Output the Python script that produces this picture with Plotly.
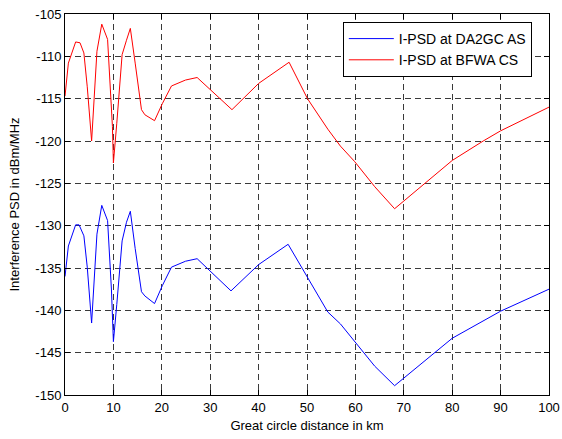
import plotly.graph_objects as go

# distances in km and I-PSD in dBm/MHz
x_red = [0, 0.7, 2.2, 3.1, 3.9, 4.6, 5.5, 6.6, 7.6, 8.8, 9.8, 10.0, 10.7, 11.8, 12.7, 13.5,
         14.5, 15.8, 16.5, 18.5, 20.1, 22.0, 24.9, 27.3, 34.5, 40.0, 46.3, 50.1, 54.3, 56.9,
         59.8, 64.0, 68.1, 73.6, 80.0, 86.4, 90.0, 100]
y_red = [-114.7, -110.8, -108.3, -108.4, -109.6, -113.6, -120.0, -109.4, -106.2, -108.0, -118.3,
         -122.6, -117.9, -109.8, -108.1, -106.7, -110.8, -116.3, -116.9, -117.6, -115.6, -113.5,
         -112.8, -112.5, -116.3, -113.2, -110.7, -115.0, -118.6, -120.6, -122.4, -125.4, -128.0,
         -125.4, -122.3, -120.0, -118.8, -116.0]

x_blue = [0, 0.7, 2.2, 2.9, 3.9, 4.6, 5.5, 6.6, 7.6, 8.8, 9.6, 10.0, 10.7, 11.8, 12.7, 13.5,
          14.5, 15.8, 16.5, 18.5, 20.1, 22.0, 24.9, 27.3, 34.3, 40.0, 46.1, 50.3, 54.3, 56.9,
          59.8, 64.0, 68.1, 73.6, 80.0, 90.0, 100]
y_blue = [-136.0, -132.4, -129.9, -129.9, -131.2, -134.9, -141.5, -131.0, -127.6, -129.4, -137.6,
          -143.7, -139.3, -131.8, -129.6, -128.3, -132.7, -137.8, -138.3, -139.2, -137.1, -134.9,
          -134.2, -133.9, -137.7, -134.6, -132.2, -136.3, -140.2, -141.6, -143.6, -146.6, -148.9,
          -146.3, -143.3, -140.1, -137.5]

x_ticks = list(range(0, 101, 10))
y_ticks = list(range(-150, -104, 5))

FONT = "Liberation Sans, Arial"

fig = go.Figure()
fig.add_trace(go.Scatter(x=x_blue, y=y_blue, mode="lines", name="I-PSD at DA2GC AS",
                         line=dict(color="#0000ff", width=1)))
fig.add_trace(go.Scatter(x=x_red, y=y_red, mode="lines", name="I-PSD at BFWA CS",
                         line=dict(color="#ff0000", width=1)))

axis_common = dict(
    showline=True, linecolor="black", linewidth=1, mirror="ticks",
    ticks="inside", ticklen=5, tickcolor="black",
    showgrid=True, gridcolor="#3a3a3a", gridwidth=1, griddash="6px,4px",
    zeroline=False, automargin=False,
    tickfont=dict(family=FONT, size=13, color="black"),
)

fig.update_xaxes(range=[0, 100], tickvals=x_ticks, ticktext=[str(v) for v in x_ticks],
                 title=dict(text="Great circle distance in km", standoff=7,
                            font=dict(family=FONT, size=13, color="black")),
                 **axis_common)
fig.update_yaxes(range=[-150, -105], tickvals=y_ticks, ticktext=[str(v) for v in y_ticks],
                 title=dict(text="Interference PSD in dBm/MHz", standoff=12,
                            font=dict(family=FONT, size=13, color="black")),
                 **axis_common)

fig.update_layout(
    width=562, height=439,
    margin=dict(l=65, r=13, t=14, b=44),
    paper_bgcolor="white", plot_bgcolor="white",
    font=dict(family=FONT, size=13, color="black"),
    legend=dict(x=0.574, y=0.979, xanchor="left", yanchor="top",
                bgcolor="white", bordercolor="black", borderwidth=1,
                font=dict(family=FONT, size=14, color="black"),
                tracegroupgap=0, itemwidth=45),
    showlegend=True,
)

fig.write_html("out.html")
